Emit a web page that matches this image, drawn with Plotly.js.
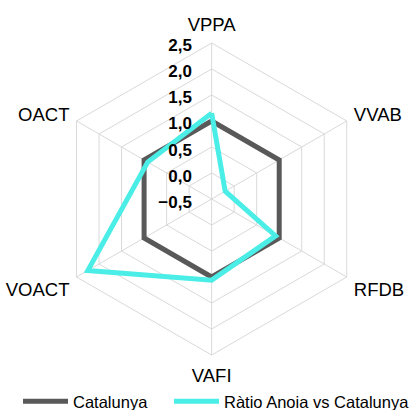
<!DOCTYPE html>
<html>
<head>
<meta charset="utf-8">
<script src="https://cdn.plot.ly/plotly-3.0.1.min.js"></script>
<style>html,body{margin:0;padding:0;background:#fff;}#chart{width:415px;height:410px;}</style>
</head>
<body>
<div id="chart"></div>
<script>
const categories = ['VPPA', 'VVAB', 'RFDB', 'VAFI', 'VOACT', 'OACT'];
const catalunya = [1, 1, 1, 1, 1, 1];
const ratioAnoia = [1.15, -0.2, 0.92, 1.06, 2.25, 0.92];
const radialTicks = [-0.5, 0, 0.5, 1, 1.5, 2, 2.5];
const seriesNames = ['Catalunya', 'Ràtio Anoia vs Catalunya'];

function closed(a) { return a.concat([a[0]]); }

const traces = [
  {
    type: 'scatterpolar', mode: 'lines', name: seriesNames[0],
    r: closed(catalunya), theta: closed(categories),
    line: {color: '#595959', width: 5}, legend: 'legend'
  },
  {
    type: 'scatterpolar', mode: 'lines', name: seriesNames[1],
    r: closed(ratioAnoia), theta: closed(categories),
    line: {color: '#4BEDE7', width: 5}, legend: 'legend2'
  }
];

const legendCommon = {
  orientation: 'h', yref: 'container', y: 0.0634, yanchor: 'top', xanchor: 'left',
  font: {size: 16.5, color: '#000'}, itemwidth: 45, bgcolor: 'rgba(0,0,0,0)'
};

const layout = {
  width: 415, height: 410,
  margin: {l: 0, r: 0, t: 0, b: 40},
  paper_bgcolor: '#ffffff',
  separators: ',.',
  font: {family: 'Liberation Sans, Arial, sans-serif', size: 18.5, color: '#000'},
  showlegend: true,
  legend: Object.assign({}, legendCommon, {x: 0.0434}),
  legend2: Object.assign({}, legendCommon, {x: 0.422}),
  polar: {
    domain: {x: [0.134, 0.886], y: [0.0405, 0.8838]},
    bgcolor: '#ffffff',
    gridshape: 'linear',
    radialaxis: {
      range: [-0.5, 2.5], tickvals: radialTicks, tickformat: '.1f',
      angle: 90, side: 'counterclockwise', showline: false,
      ticks: 'outside', ticklen: 4, tickcolor: 'rgba(0,0,0,0)',
      tickfont: {size: 17, color: '#000', family: 'Liberation Sans, Arial, sans-serif', weight: 'bold'},
      gridcolor: '#d9d9d9', gridwidth: 1
    },
    angularaxis: {
      rotation: 90, direction: 'clockwise',
      categoryorder: 'array', categoryarray: categories,
      gridcolor: '#d9d9d9', linecolor: '#d9d9d9', linewidth: 1,
      ticks: 'outside', ticklen: 4, tickcolor: 'rgba(0,0,0,0)',
      tickfont: {size: 18.5, color: '#000'}
    }
  }
};

Plotly.newPlot('chart', traces, layout, {displayModeBar: false, staticPlot: true});
</script>
</body>
</html>
